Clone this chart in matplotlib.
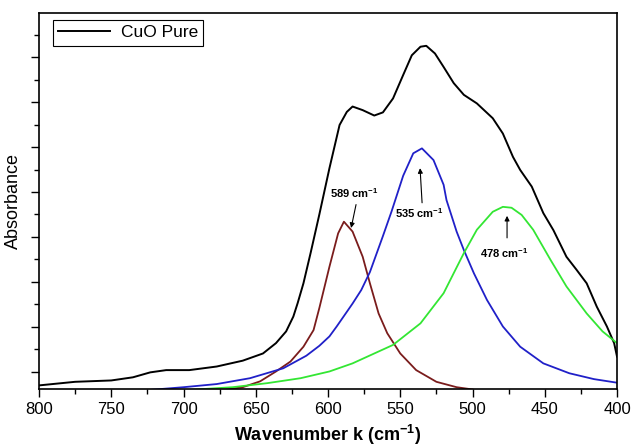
import matplotlib
matplotlib.use("Agg")
import matplotlib.pyplot as plt
from matplotlib.ticker import MultipleLocator

plt.rcParams['font.family'] = ['Liberation Sans', 'DejaVu Sans']
plt.rcParams['mathtext.fontset'] = 'custom'
plt.rcParams['mathtext.rm'] = 'Liberation Sans'
plt.rcParams['mathtext.bf'] = 'Liberation Sans:bold'

# CuO Pure spectrum
wn_black = [800, 775, 750, 735, 723, 712, 696, 677, 659, 645, 636, 629, 624, 621, 617, 612, 606, 599,
            592, 587, 583, 576, 568, 562, 555, 548, 542, 536, 532, 526, 520, 513, 506, 497, 486, 479,
            472, 467, 459, 451, 444, 435, 428, 421, 414, 407, 402, 400]
abs_black = [-0.30, -0.22, -0.19, -0.12, -0.01, 0.04, 0.04, 0.12, 0.25, 0.41, 0.64, 0.90, 1.23, 1.53, 1.97, 2.65, 3.50, 4.53,
             5.49, 5.78, 5.90, 5.82, 5.70, 5.77, 6.08, 6.60, 7.04, 7.23, 7.25, 7.08, 6.78, 6.42, 6.16, 5.97, 5.64, 5.30,
             4.78, 4.49, 4.12, 3.53, 3.15, 2.56, 2.27, 1.97, 1.45, 1.01, 0.64, 0.34]

# fitted band at 589
wn_brown = [672, 659, 647, 636, 626, 617, 610, 606, 599, 593, 589, 583, 576, 571, 565, 559, 550, 539, 525, 511, 500]
abs_brown = [-0.40, -0.34, -0.21, 0.01, 0.23, 0.56, 0.93, 1.42, 2.34, 3.08, 3.34, 3.12, 2.56, 1.97, 1.30, 0.86, 0.41, 0.04, -0.22, -0.34, -0.39]

# fitted band at 535
wn_blue = [723, 700, 677, 654, 631, 615, 606, 599, 594, 583, 577, 571, 562, 556, 548, 541, 535, 527, 520, 518, 511,
           506, 499, 490, 479, 467, 451, 433, 416, 400]
abs_blue = [-0.40, -0.34, -0.27, -0.14, 0.08, 0.36, 0.58, 0.79, 1.01, 1.52, 1.82, 2.22, 3.02, 3.57, 4.36, 4.86, 4.97, 4.71, 4.16, 3.82, 3.12,
            2.71, 2.19, 1.60, 1.01, 0.56, 0.19, -0.03, -0.16, -0.24]

# fitted band at 478
wn_green = [696, 666, 642, 619, 599, 583, 555, 536, 520, 509, 506, 497, 486, 479, 473, 466, 458, 446, 435, 421, 410, 400]
abs_green = [-0.40, -0.34, -0.25, -0.14, 0.01, 0.19, 0.60, 1.08, 1.75, 2.45, 2.64, 3.16, 3.56, 3.67, 3.65, 3.49, 3.16, 2.49, 1.90, 1.30, 0.90, 0.64]

peak_labels = ['589', '535', '478']
label_pos = [(582, 3.98), (537, 3.53), (478.2, 2.64)]
arrow_tail = [(580.6, 3.72), (534.9, 3.76), (476.1, 2.98)]
arrow_head = [(584, 3.2), (536.3, 4.53), (476.1, 3.47)]

fig = plt.figure(figsize=(6.32, 4.46), dpi=100)
ax = fig.add_axes([0.0617, 0.1278, 0.9146, 0.8431])

ax.plot(wn_black, abs_black, color='black', lw=1.4, label='CuO Pure')
ax.plot(wn_brown, abs_brown, color='#7a1c1c', lw=1.3)
ax.plot(wn_blue, abs_blue, color='#2020c8', lw=1.3)
ax.plot(wn_green, abs_green, color='#33e633', lw=1.3)

for lab, tp, tl, hd in zip(peak_labels, label_pos, arrow_tail, arrow_head):
    ax.text(tp[0], tp[1], lab + r' cm$^{\mathbf{-1}}$', ha='center', va='center',
            fontsize=8, fontweight='bold')
    ax.annotate('', xy=hd, xytext=tl,
                arrowprops=dict(arrowstyle='-|>', color='black', lw=0.8,
                                mutation_scale=7, shrinkA=0, shrinkB=0))

ax.set_xlim(800, 400)
ax.set_ylim(-0.38, 7.98)
ax.xaxis.set_major_locator(MultipleLocator(50))
ax.xaxis.set_minor_locator(MultipleLocator(25))
ax.yaxis.set_major_locator(MultipleLocator(1))
ax.yaxis.set_minor_locator(MultipleLocator(0.5))
ax.tick_params(axis='both', which='major', direction='out', length=6, width=1, labelsize=12)
ax.tick_params(axis='both', which='minor', direction='out', length=3.5, width=1)
ax.tick_params(axis='y', which='both', labelleft=False)
for s in ax.spines.values():
    s.set_linewidth(1.2)

ax.set_xlabel(r'Wavenumber k (cm$^{\mathbf{-1}}$)', fontsize=13, fontweight='bold', labelpad=4)
ax.set_ylabel('Absorbance', fontsize=13, labelpad=6)

leg = ax.legend(loc='upper left', bbox_to_anchor=(0.024, 0.981), borderaxespad=0,
                fancybox=False, edgecolor='black', fontsize=12.5, handlelength=3.0,
                handletextpad=0.6, borderpad=0.3, framealpha=1)
leg.get_frame().set_linewidth(0.8)

fig.savefig('out.png', dpi=100)
